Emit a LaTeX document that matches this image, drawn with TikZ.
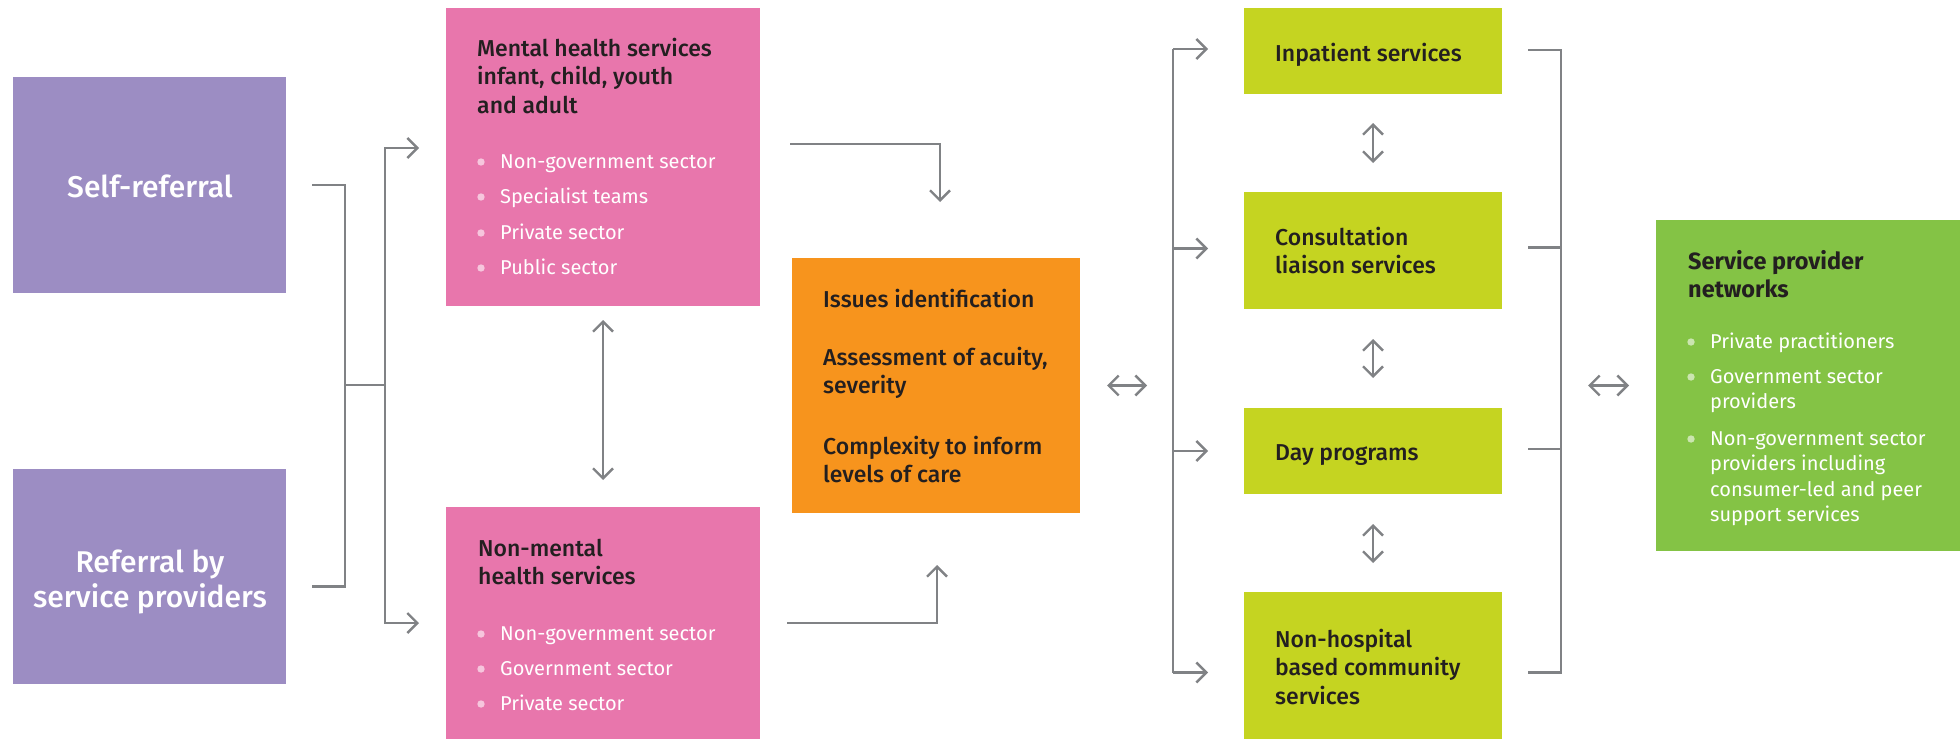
\documentclass[tikz,border=0pt]{standalone}
\usepackage{fontspec}
\setmainfont{Fira Sans}[BoldFont={Fira Sans Medium}]
\newfontfamily\fbold{Fira Sans}
\usetikzlibrary{arrows.meta,calc}
\definecolor{cpurple}{HTML}{9C8DC3}
\definecolor{cpink}{HTML}{E876AC}
\definecolor{corange}{HTML}{F7941D}
\definecolor{clime}{HTML}{C5D421}
\definecolor{cgreen}{HTML}{84C345}
\definecolor{cline}{HTML}{808285}
\definecolor{ctext}{HTML}{231F20}
\definecolor{dotpink}{HTML}{F6C6DD}
\definecolor{dotgreen}{HTML}{CBE5B0}
\tikzset{
 box/.style={inner sep=0pt, outer sep=0pt, anchor=north west},
 ln/.style={draw=cline, line width=2.4pt},
 arr/.style={ln, -{Straight Barb[length=10pt,width=20pt]}},
 darr/.style={ln, {Straight Barb[length=10pt,width=20pt]}-{Straight Barb[length=10pt,width=20pt]}},
 htxt/.style={inner sep=0pt, anchor=base west, text=ctext, font=\fontsize{23}{28.5}\selectfont\bfseries},
 hbtxt/.style={inner sep=0pt, anchor=base west, text=ctext, font=\fbold\fontsize{23.5}{28}\selectfont\bfseries},
 btxt/.style={inner sep=0pt, anchor=base west, text=white, font=\fontsize{20}{25.5}\selectfont},
 wtxt/.style={inner sep=0pt, anchor=base, text=white, font=\fontsize{30}{35}\selectfont\bfseries},
}
\newcommand\myitem[4]{\fill[#3] (#1-19,#2-6) circle[radius=3.7pt];
 \node[btxt] at (#1,#2) {\parbox[t]{240pt}{\raggedright #4}};}
\begin{document}
\begin{tikzpicture}[x=1pt,y=-1pt]
\useasboundingbox (0,0) rectangle (1960,739);
% boxes
\node[box, fill=cpurple, minimum width=273pt, minimum height=216pt] (self) at (13,77) {};
\node[box, fill=cpurple, minimum width=273pt, minimum height=215pt] (refer) at (13,469) {};
\node[box, fill=cpink, minimum width=314pt, minimum height=298pt] (mh) at (446,8) {};
\node[box, fill=cpink, minimum width=314pt, minimum height=232pt] (nmh) at (446,507) {};
\node[box, fill=corange, minimum width=288pt, minimum height=255pt] (assess) at (792,258) {};
\node[box, fill=clime, minimum width=258pt, minimum height=86pt] (inp) at (1244,8) {};
\node[box, fill=clime, minimum width=258pt, minimum height=117pt] (cons) at (1244,192) {};
\node[box, fill=clime, minimum width=258pt, minimum height=86pt] (day) at (1244,408) {};
\node[box, fill=clime, minimum width=258pt, minimum height=147pt] (nh) at (1244,592) {};
\node[box, fill=cgreen, minimum width=304pt, minimum height=331pt] (spn) at (1656,220) {};
% texts
\node[wtxt] (tself) at (150,197) {Self-referral};
\node[wtxt] (trefer) at (150,572) {\parbox[t]{270pt}{\centering Referral by\\service providers}};
\node[htxt] (tmh) at (477,56) {\parbox[t]{280pt}{\raggedright Mental health services\\infant, child, youth\\and adult}};
\myitem{500}{168}{dotpink}{Non-government sector}
\myitem{500}{203}{dotpink}{Specialist teams}
\myitem{500}{239}{dotpink}{Private sector}
\myitem{500}{274}{dotpink}{Public sector}
\node[htxt] (tnmh) at (478,556) {\parbox[t]{280pt}{\raggedright Non-mental\\health services}};
\myitem{500}{640}{dotpink}{Non-government sector}
\myitem{500}{675}{dotpink}{Government sector}
\myitem{500}{710}{dotpink}{Private sector}
\node[htxt] (ta1) at (823,307) {Issues identification};
\node[htxt] (ta2) at (823,365) {\parbox[t]{260pt}{\raggedright Assessment of acuity,\\severity}};
\node[htxt] (ta3) at (823,454) {\parbox[t]{260pt}{\raggedright Complexity to inform\\levels of care}};
\node[htxt] (tinp) at (1275,61) {Inpatient services};
\node[htxt] (tcons) at (1275,245) {\parbox[t]{220pt}{\raggedright Consultation\\liaison services}};
\node[htxt] (tday) at (1275,460) {Day programs};
\node[htxt] (tnh) at (1275,647) {\parbox[t]{220pt}{\raggedright Non-hospital\\based community\\services}};
\node[hbtxt] (tspn) at (1688,269) {\parbox[t]{260pt}{\raggedright Service provider\\networks}};
\myitem{1710}{348}{dotgreen}{Private practitioners}
\myitem{1710}{383}{dotgreen}{Government sector\\providers}
\myitem{1710}{445}{dotgreen}{Non-government sector\\providers including\\consumer-led and peer\\support services}
% connectors left
\coordinate (jl) at ($(self.east)+(59,200)$);
\draw[ln] ([xshift=26pt]self.east) -| (jl) |- ([xshift=26pt,yshift=-10pt]refer.east);
\draw[ln] (jl) -- ++(40,0) coordinate (jr);
\draw[arr] (jr) |- ([xshift=-27pt,yshift=9pt]mh.west);
\draw[arr] (jr) |- ([xshift=-27pt]nmh.west);
\draw[darr] ([yshift=-14pt]mh.south) -- ([yshift=27pt]nmh.north);
% to assessment
\draw[arr] ([xshift=30pt,yshift=13pt]mh.east) -| ([xshift=4pt,yshift=56pt]assess.north);
\draw[arr] ([xshift=27pt]nmh.east) -| ([xshift=1pt,yshift=-52pt]assess.south);
\draw[darr] ([xshift=27pt]assess.east) -- ([xshift=67pt]assess.east);
% left bus
\coordinate (lbt) at ($(inp.west)+(-71,-2)$);
\coordinate (lbb) at ($(nh.west)+(-71,7)$);
\draw[ln] (lbt) -- (lbb);
\draw[arr] (lbt) -- ([xshift=-36pt,yshift=2pt]inp.west);
\draw[arr] ([xshift=-71pt,yshift=2pt]cons.west) -- ([xshift=-36pt,yshift=2pt]cons.west);
\draw[arr] ([xshift=-71pt]day.west) -- ([xshift=-36pt]day.west);
\draw[arr] (lbb) -- ([xshift=-36pt,yshift=-7pt]nh.west);
% vertical double arrows
\draw[darr] ([yshift=-29pt]inp.south) -- ([yshift=29pt]cons.north);
\draw[darr] ([yshift=-30pt]cons.south) -- ([yshift=30pt]day.north);
\draw[darr] ([yshift=-30pt]day.south) -- ([yshift=29pt]nh.north);
% right bus
\coordinate (rbt) at ($(inp.east)+(59,-1)$);
\coordinate (rbb) at ($(nh.east)+(59,7)$);
\draw[ln] ([xshift=26pt,yshift=1pt]inp.east) -- (rbt) -- (rbb) -- ([xshift=26pt,yshift=-7pt]nh.east);
\draw[ln] ([xshift=26pt,yshift=3pt]cons.east) -- ([xshift=59pt,yshift=3pt]cons.east);
\draw[ln] ([xshift=26pt,yshift=2pt]day.east) -- ([xshift=59pt,yshift=2pt]day.east);
\draw[darr] ([xshift=-68pt]spn.west) -- ([xshift=-27pt]spn.west);
\end{tikzpicture}
\end{document}
